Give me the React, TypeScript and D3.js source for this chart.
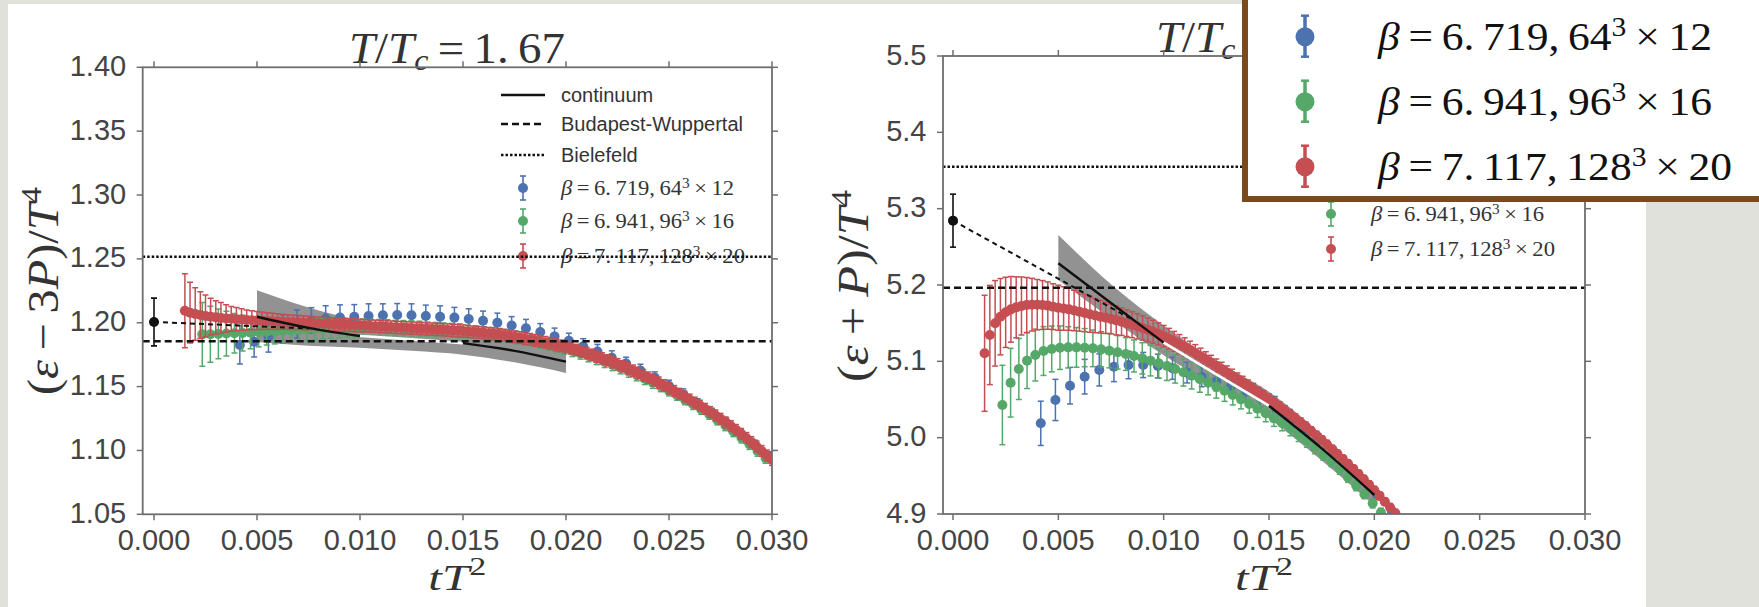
import React from 'react';
import * as d3 from 'd3';

const W = 1759;
const H = 607;

// ---------- axis ticks ----------
const xTicks = [0, 0.005, 0.01, 0.015, 0.02, 0.025, 0.03];
const xTickLabels = ['0.000', '0.005', '0.010', '0.015', '0.020', '0.025', '0.030'];
const leftYTicks = [1.05, 1.1, 1.15, 1.2, 1.25, 1.3, 1.35, 1.4];
const leftYTickLabels = ['1.05', '1.10', '1.15', '1.20', '1.25', '1.30', '1.35', '1.40'];
const rightYTicks = [4.9, 5.0, 5.1, 5.2, 5.3, 5.4, 5.5];
const rightYTickLabels = ['4.9', '5.0', '5.1', '5.2', '5.3', '5.4', '5.5'];

// ---------- ensembles ----------
const betaLabels = ['6.719', '6.941', '7.117'];
const spatialLabels = ['64', '96', '128'];
const temporalLabels = ['12', '16', '20'];
const latticeNt = [12, 16, 20];
const flowTimeStart = 0.6; // t/a^2 of first point
const flowTimeStep = 0.1; // t/a^2 step
const seriesColors = ['#4c72b0', '#55a868', '#c44e52'];

// ---------- left panel: (e-3P)/T^4 ----------
const leftBlueValues = [1.1826, 1.1852, 1.1890, 1.1950, 1.1990, 1.2018, 1.2033, 1.2040, 1.2047, 1.2053,
  1.2058, 1.2060, 1.2058, 1.2053, 1.2047, 1.2040, 1.2029, 1.2016, 1.2000, 1.1978,
  1.1956, 1.1928, 1.1893, 1.1858, 1.1815, 1.1775, 1.1725, 1.1680, 1.1625, 1.1570,
  1.1505, 1.1437, 1.1365, 1.1290, 1.1213, 1.1130, 1.1045, 1.0955];
const leftBlueErr = [0.015, 0.012, 0.012, 0.011, 0.011, 0.010, 0.010, 0.010, 0.0095, 0.0095,
  0.009, 0.009, 0.009, 0.0085, 0.0085, 0.008, 0.008, 0.0075, 0.0075, 0.007,
  0.007, 0.0065, 0.0065, 0.006, 0.006, 0.0055, 0.0055, 0.005, 0.005, 0.0045,
  0.0045, 0.0045, 0.004, 0.004, 0.004, 0.0035, 0.0035, 0.0035];

const leftGreenValues = [1.1909, 1.1910, 1.1912, 1.1915, 1.1917, 1.1919, 1.1922, 1.1926, 1.1930, 1.1934,
  1.1938, 1.1941, 1.1944, 1.1947, 1.1950, 1.1952, 1.1954, 1.1956, 1.1958, 1.1959,
  1.1960, 1.1960, 1.1960, 1.1959, 1.1958, 1.1957, 1.1955, 1.1952, 1.1950, 1.1947,
  1.1943, 1.1940, 1.1936, 1.1931, 1.1925, 1.1919, 1.1912, 1.1904, 1.1895, 1.1885,
  1.1873, 1.1860, 1.1846, 1.1831, 1.1815, 1.1798, 1.1780, 1.1760, 1.1739, 1.1717,
  1.1694, 1.1670, 1.1645, 1.1618, 1.1590, 1.1561, 1.1531, 1.1500, 1.1467, 1.1433,
  1.1398, 1.1361, 1.1323, 1.1284, 1.1240, 1.1195, 1.1148, 1.1099, 1.1048, 1.0995,
  1.0940];
const leftGreenErr = [0.025, 0.022, 0.0195, 0.0175, 0.0155, 0.014, 0.0125, 0.0115, 0.0105, 0.010,
  0.0095, 0.009, 0.0085, 0.0085, 0.008, 0.008, 0.0075, 0.0075, 0.007, 0.007,
  0.007, 0.0065, 0.0065, 0.0065, 0.006, 0.006, 0.006, 0.006, 0.0055, 0.0055,
  0.0055, 0.0055, 0.0055, 0.005, 0.005, 0.005, 0.005, 0.005, 0.005, 0.005,
  0.005, 0.0045, 0.0045, 0.0045, 0.0045, 0.0045, 0.0045, 0.0045, 0.0045, 0.0045,
  0.0045, 0.0045, 0.0045, 0.0045, 0.0045, 0.0045, 0.0045, 0.004, 0.004, 0.004,
  0.004, 0.004, 0.004, 0.004, 0.004, 0.004, 0.004, 0.004, 0.004, 0.004,
  0.004];

const leftRedValues = [1.2094, 1.2079, 1.2068, 1.2060, 1.2053, 1.2047, 1.2042, 1.2038, 1.2034, 1.2031,
  1.2028, 1.2025, 1.2022, 1.2019, 1.2017, 1.2015, 1.2013, 1.2011, 1.2009, 1.2007,
  1.2005, 1.2003, 1.2002, 1.2000, 1.1998, 1.1996, 1.1994, 1.1992, 1.1990, 1.1988,
  1.1986, 1.1984, 1.1982, 1.1980, 1.1978, 1.1976, 1.1974, 1.1972, 1.1970, 1.1968,
  1.1966, 1.1964, 1.1962, 1.1960, 1.1958, 1.1956, 1.1954, 1.1952, 1.1950, 1.1948,
  1.1946, 1.1943, 1.1940, 1.1938, 1.1935, 1.1932, 1.1928, 1.1925, 1.1921, 1.1917,
  1.1913, 1.1908, 1.1903, 1.1897, 1.1890, 1.1884, 1.1877, 1.1870, 1.1862, 1.1854,
  1.1846, 1.1837, 1.1828, 1.1819, 1.1810, 1.1799, 1.1787, 1.1775, 1.1762, 1.1749,
  1.1735, 1.1721, 1.1706, 1.1691, 1.1675, 1.1659, 1.1642, 1.1625, 1.1607, 1.1589,
  1.1570, 1.1551, 1.1531, 1.1510, 1.1487, 1.1466, 1.1444, 1.1422, 1.1399, 1.1375,
  1.1351, 1.1326, 1.1301, 1.1275, 1.1248, 1.1220, 1.1191, 1.1161, 1.1130, 1.1098,
  1.1065, 1.1031, 1.0996, 1.0961, 1.0925];
const leftRedErr = [0.029, 0.0237, 0.0206, 0.0183, 0.0164, 0.0144, 0.013, 0.012, 0.0107, 0.0097,
  0.0091, 0.0084, 0.0078, 0.0074, 0.0071, 0.0068, 0.0065, 0.0063, 0.0061, 0.0059,
  0.0057, 0.0056, 0.0055, 0.0054, 0.0053, 0.005, 0.005, 0.005, 0.005, 0.005,
  0.005, 0.005, 0.005, 0.005, 0.005, 0.0048, 0.0048, 0.0048, 0.0048, 0.0048,
  0.0048, 0.0048, 0.0048, 0.0048, 0.0048, 0.0048, 0.0048, 0.0048, 0.0048, 0.0048,
  0.0048, 0.0048, 0.0048, 0.0048, 0.0048, 0.0046, 0.0046, 0.0046, 0.0046, 0.0046,
  0.0046, 0.0046, 0.0046, 0.0046, 0.0046, 0.0046, 0.0046, 0.0046, 0.0046, 0.0046,
  0.0046, 0.0046, 0.0046, 0.0046, 0.0046, 0.0044, 0.0044, 0.0044, 0.0044, 0.0044,
  0.0044, 0.0044, 0.0044, 0.0044, 0.0044, 0.0044, 0.0044, 0.0044, 0.0044, 0.0044,
  0.0044, 0.0044, 0.0044, 0.0044, 0.0044, 0.0042, 0.0042, 0.0042, 0.0042, 0.0042,
  0.0042, 0.0042, 0.0042, 0.0042, 0.0042, 0.0042, 0.0042, 0.0042, 0.0042, 0.0042,
  0.0042, 0.0042, 0.0042, 0.0042, 0.0042];

// continuum extrapolation
const contT = [0.005, 0.0075, 0.01, 0.0125, 0.015, 0.0175, 0.02];
const leftCont = [1.2047, 1.1960, 1.1896, 1.1870, 1.1840, 1.1780, 1.1695];
const leftBandHi = [1.2255, 1.2120, 1.2020, 1.1970, 1.1930, 1.1880, 1.1780];
const leftBandLo = [1.1850, 1.1820, 1.1805, 1.1780, 1.1750, 1.1690, 1.1607];
const leftExtrapT = [0, 0.0075];
const leftExtrapV = [1.2006, 1.1955];
const leftZeroFlow = { value: 1.2006, err: 0.0187 };
const leftBudapest = 1.1855;
const leftBielefeld = 1.2517;

// ---------- right panel: (e+P)/T^4 ----------
const rightBlueValues = [5.0188, 5.0494, 5.0681, 5.0799, 5.0887, 5.0930, 5.0952, 5.0952, 5.0939, 5.0909,
  5.0852, 5.0797, 5.0738, 5.0672, 5.0598, 5.0516, 5.0440, 5.0290, 5.0140, 4.9990,
  4.9820, 4.9640, 4.9450, 4.9250, 4.9040, 4.8830];
const rightBlueErr = [0.029, 0.027, 0.024, 0.0227, 0.021, 0.0196, 0.018, 0.0165, 0.0155, 0.0145,
  0.0135, 0.013, 0.0125, 0.012, 0.012, 0.0115, 0.010, 0.008, 0.007, 0.006,
  0.006, 0.0055, 0.0055, 0.005, 0.005, 0.005];

const rightGreenValues = [5.0428, 5.0720, 5.0900, 5.1009, 5.1083, 5.1135, 5.1162, 5.1179, 5.1183, 5.1183,
  5.1179, 5.1170, 5.1157, 5.1140, 5.1118, 5.1096, 5.1070, 5.1039, 5.1009, 5.0974,
  5.0939, 5.0900, 5.0856, 5.0813, 5.0765, 5.0721, 5.0668, 5.0616, 5.0559, 5.0502,
  5.0441, 5.0380, 5.0319, 5.0253, 5.0190, 5.0120, 5.0040, 4.9960, 4.9870, 4.9780,
  4.9690, 4.9590, 4.9480, 4.9370, 4.9260, 4.9140, 4.9020, 4.8900];
const rightGreenErr = [0.052, 0.045, 0.040, 0.0365, 0.034, 0.032, 0.030, 0.0285, 0.027, 0.026,
  0.025, 0.024, 0.023, 0.0225, 0.022, 0.0215, 0.021, 0.0205, 0.020, 0.0195,
  0.019, 0.0185, 0.018, 0.0175, 0.017, 0.016, 0.015, 0.014, 0.013, 0.0125,
  0.012, 0.0115, 0.011, 0.0105, 0.010, 0.0095, 0.009, 0.0085, 0.008, 0.0075,
  0.007, 0.007, 0.0065, 0.0065, 0.006, 0.006, 0.0055, 0.0055];

const rightRedValues = [5.1105, 5.1345, 5.1498, 5.1585, 5.1642, 5.1681, 5.1707, 5.1725, 5.1738, 5.1742,
  5.1742, 5.1738, 5.1730, 5.1716, 5.1703, 5.1692, 5.1681, 5.1666, 5.1650, 5.1633,
  5.1616, 5.1600, 5.1585, 5.1570, 5.1555, 5.1537, 5.1519, 5.1500, 5.1480, 5.1459,
  5.1437, 5.1413, 5.1388, 5.1360, 5.1330, 5.1297, 5.1262, 5.1226, 5.1188, 5.1149,
  5.1109, 5.1068, 5.1026, 5.0984, 5.0941, 5.0898, 5.0855, 5.0812, 5.0768, 5.0724,
  5.0680, 5.0636, 5.0591, 5.0546, 5.0501, 5.0454, 5.0405, 5.0355, 5.0304, 5.0252,
  5.0199, 5.0144, 5.0088, 5.0030, 4.9971, 4.9911, 4.9849, 4.9786, 4.9722, 4.9657,
  4.9591, 4.9524, 4.9455, 4.9384, 4.9311, 4.9237, 4.9162, 4.9086, 4.9009, 4.8931];
const rightRedErr = [0.076, 0.065, 0.056, 0.050, 0.046, 0.043, 0.040, 0.038, 0.036, 0.0345,
  0.033, 0.032, 0.031, 0.030, 0.0295, 0.0285, 0.0275, 0.0265, 0.0255, 0.0245,
  0.0235, 0.0225, 0.0215, 0.0205, 0.0195, 0.019, 0.018, 0.0175, 0.017, 0.0165,
  0.016, 0.0155, 0.015, 0.0145, 0.014, 0.0135, 0.013, 0.0125, 0.012, 0.0115,
  0.011, 0.0105, 0.010, 0.0095, 0.009, 0.009, 0.0085, 0.0085, 0.008, 0.008,
  0.0075, 0.0075, 0.007, 0.007, 0.007, 0.0065, 0.0065, 0.0065, 0.006, 0.006,
  0.006, 0.006, 0.0055, 0.0055, 0.0055, 0.0055, 0.005, 0.005, 0.005, 0.005,
  0.005, 0.005, 0.005, 0.005, 0.005, 0.005, 0.005, 0.005, 0.005, 0.005];

const rightCont = [5.2284, 5.1765, 5.1245, 5.0830, 5.0417, 4.9860, 4.9249];
const rightBandHi = [5.2655, 5.2010, 5.1470, 5.1000, 5.0600, 5.0040, 4.9370];
const rightBandLo = [5.2066, 5.1560, 5.1080, 5.0670, 5.0250, 4.9700, 4.9110];
const rightExtrapT = [0, 0.0085];
const rightExtrapV = [5.2843, 5.155];
const rightZeroFlow = { value: 5.2843, err: 0.0347 };
const rightBudapest = 5.1965;
const rightBielefeld = 5.355;

const legendTexts = ['continuum', 'Budapest-Wuppertal', 'Bielefeld'];

// ---------- layout ----------
const SANS = "'Liberation Sans', Arial, Helvetica, sans-serif";
const SERIF = "'Liberation Serif', 'Times New Roman', serif";
const FRAME = '#6e6e6e';
const TICKTXT = '#444';

type Cfg = any;

const leftCfg: Cfg = {
  id: 'L', left: 142.7, right: 772, top: 67.3, bottom: 514.3, xZero: 154,
  yDomain: [1.05, 1.4], yTicks: leftYTicks, yTickLabels: leftYTickLabels,
  series: [[leftBlueValues, leftBlueErr], [leftGreenValues, leftGreenErr], [leftRedValues, leftRedErr]],
  cont: leftCont, bandHi: leftBandHi, bandLo: leftBandLo,
  extrapT: leftExtrapT, extrapV: leftExtrapV, zero: leftZeroFlow,
  budapest: leftBudapest, bielefeld: leftBielefeld,
  titleX: 457, titleY: 63, ylabel: 'minus', ylabelX: 58, ylabelY: 291, ylabelLen: 208,
  legend: { l0: 501, l1: 545, mx: 523, tx: 561, rows: [95, 124, 155, 188, 221, 256], show: [0, 1, 2, 3, 4, 5] },
};
// rows 0-3 of the right-hand legend lie under the large legend box, as in the reference
const rightCfg: Cfg = {
  id: 'R', left: 943, right: 1585, top: 56, bottom: 514, xZero: 953,
  yDomain: [4.9, 5.5], yTicks: rightYTicks, yTickLabels: rightYTickLabels,
  series: [[rightBlueValues, rightBlueErr], [rightGreenValues, rightGreenErr], [rightRedValues, rightRedErr]],
  cont: rightCont, bandHi: rightBandHi, bandLo: rightBandLo,
  extrapT: rightExtrapT, extrapV: rightExtrapV, zero: rightZeroFlow,
  budapest: rightBudapest, bielefeld: rightBielefeld,
  titleX: 1264, titleY: 52, ylabel: 'plus', ylabelX: 868, ylabelY: 286, ylabelLen: 192,
  legend: { l0: 1309, l1: 1353, mx: 1331, tx: 1371, rows: [87, 116, 147, 180, 214, 249], show: [4, 5] },
};

function BetaLabel({ x, y, i, size, width, fill }: any) {
  const sup = size * 0.36;
  return (
    <text x={x} y={y} fontFamily={SERIF} fontSize={size} fill={fill}
      textLength={width} lengthAdjust="spacingAndGlyphs">
      <tspan fontStyle="italic">β</tspan>
      <tspan>{`\u2009=\u2009${betaLabels[i].replace('.', '.\u2009')},\u2009${spatialLabels[i]}`}</tspan>
      <tspan dy={-sup} fontSize={size * 0.68}>3</tspan>
      <tspan dy={sup}>{`\u2009×\u2009${temporalLabels[i]}`}</tspan>
    </text>
  );
}

function Title({ x, y }: any) {
  return (
    <text x={x} y={y} textAnchor="middle" fontFamily={SERIF} fontSize={44} fill="#333"
      textLength={216} lengthAdjust="spacingAndGlyphs">
      <tspan fontStyle="italic">T</tspan>
      <tspan>/</tspan>
      <tspan fontStyle="italic">T</tspan>
      <tspan fontStyle="italic" fontSize={30} dy={7}>c</tspan>
      <tspan dy={-7}>{'\u2009=\u20091.\u200967'}</tspan>
    </text>
  );
}

function Panel({ cfg }: { cfg: Cfg }) {
  const x = d3.scaleLinear().domain([0, 0.03]).range([cfg.xZero, cfg.right]);
  const y = d3.scaleLinear().domain(cfg.yDomain).range([cfg.bottom, cfg.top]);
  const clipId = `clip${cfg.id}`;

  const band = d3.area<number>()
    .x((_, i) => x(contT[i]))
    .y0((_, i) => y(cfg.bandLo[i]))
    .y1((_, i) => y(cfg.bandHi[i]))
    .curve(d3.curveMonotoneX)(cfg.cont);

  const segLine = (from: number, to: number) =>
    d3.line<number>()
      .x((i) => x(contT[i]))
      .y((i) => y(cfg.cont[i]))
      .curve(d3.curveMonotoneX)(d3.range(from, to + 1));

  const extrap = d3.line<number>()
    .x((_, i) => x(cfg.extrapT[i]))
    .y((v) => y(v))(cfg.extrapV);

  const cap = 3;
  const r = 5;

  const seriesEls = cfg.series.map(([vals, errs]: any, s: number) => {
    const nt2 = latticeNt[s] * latticeNt[s];
    const col = seriesColors[s];
    return (
      <g key={s}>
        {vals.map((v: number, i: number) => {
          const t = (flowTimeStart + i * flowTimeStep) / nt2;
          const cx = x(t);
          const yt = y(v + errs[i]);
          const yb = y(v - errs[i]);
          return (
            <g key={i} stroke={col} strokeWidth={1.5}>
              <line x1={cx} x2={cx} y1={yt} y2={yb} />
              <line x1={cx - cap} x2={cx + cap} y1={yt} y2={yt} />
              <line x1={cx - cap} x2={cx + cap} y1={yb} y2={yb} />
            </g>
          );
        })}
        {vals.map((v: number, i: number) => {
          const t = (flowTimeStart + i * flowTimeStep) / nt2;
          return <circle key={'m' + i} cx={x(t)} cy={y(v)} r={r} fill={col} />;
        })}
      </g>
    );
  });

  const z = cfg.zero;
  const zx = x(0);
  const lg = cfg.legend;
  const shown = (i: number) => lg.show.includes(i);

  const ylab = cfg.ylabel === 'minus' ? (
    <>
      <tspan>(</tspan>
      <tspan fontStyle="italic">ε</tspan>
      <tspan>{'\u2009−\u20093'}</tspan>
      <tspan fontStyle="italic">P</tspan>
      <tspan>)/</tspan>
      <tspan fontStyle="italic">T</tspan>
      <tspan dy={-17} fontSize={30}>4</tspan>
    </>
  ) : (
    <>
      <tspan>(</tspan>
      <tspan fontStyle="italic">ε</tspan>
      <tspan>{'\u2009+\u2009'}</tspan>
      <tspan fontStyle="italic">P</tspan>
      <tspan>)/</tspan>
      <tspan fontStyle="italic">T</tspan>
      <tspan dy={-17} fontSize={30}>4</tspan>
    </>
  );

  const dashes = ['', '7,4', '2.5,2'];

  return (
    <g>
      <defs>
        <clipPath id={clipId}>
          <rect x={cfg.left} y={cfg.top} width={cfg.right - cfg.left} height={cfg.bottom - cfg.top} />
        </clipPath>
      </defs>

      <Title x={cfg.titleX} y={cfg.titleY} />

      <g clipPath={`url(#${clipId})`}>
        <path d={band || ''} fill="#929292" />
        {seriesEls}
        <g stroke="#111" strokeWidth={1.6}>
          <line x1={zx} x2={zx} y1={y(z.value + z.err)} y2={y(z.value - z.err)} />
          <line x1={zx - cap} x2={zx + cap} y1={y(z.value + z.err)} y2={y(z.value + z.err)} />
          <line x1={zx - cap} x2={zx + cap} y1={y(z.value - z.err)} y2={y(z.value - z.err)} />
        </g>
        <circle cx={zx} cy={y(z.value)} r={r} fill="#111" />
        <path d={extrap || ''} fill="none" stroke="#111" strokeWidth={2} strokeDasharray="5,4" />
        <path d={segLine(0, 2) || ''} fill="none" stroke="#111" strokeWidth={2.4} />
        <path d={segLine(2, 4) || ''} fill="none" stroke="#fff" strokeWidth={2.6} />
        <path d={segLine(4, 6) || ''} fill="none" stroke="#111" strokeWidth={2.4} />
      </g>

      {/* legend */}
      <g>
        {legendTexts.map((t, i) => shown(i) ? (
          <g key={t}>
            <line x1={lg.l0} x2={lg.l1} y1={lg.rows[i]} y2={lg.rows[i]} stroke="#111" strokeWidth={2.5}
              strokeDasharray={dashes[i] || undefined} />
            <text x={lg.tx} y={lg.rows[i] + 7} fontFamily={SANS} fontSize={20} fill="#333">{t}</text>
          </g>
        ) : null)}
        {[0, 1, 2].map((s) => {
          if (!shown(3 + s)) return null;
          const cy = lg.rows[3 + s];
          return (
            <g key={s}>
              <g stroke={seriesColors[s]} strokeWidth={1.6}>
                <line x1={lg.mx} x2={lg.mx} y1={cy - 12} y2={cy + 12} />
                <line x1={lg.mx - 3} x2={lg.mx + 3} y1={cy - 12} y2={cy - 12} />
                <line x1={lg.mx - 3} x2={lg.mx + 3} y1={cy + 12} y2={cy + 12} />
              </g>
              <circle cx={lg.mx} cy={cy} r={5} fill={seriesColors[s]} />
              <BetaLabel x={lg.tx} y={cy + 7} i={s} size={20} width={s === 2 ? 184 : 173} fill="#333" />
            </g>
          );
        })}
      </g>

      {/* reference lines */}
      <g clipPath={`url(#${clipId})`}>
        <line x1={cfg.left} x2={cfg.right} y1={y(cfg.budapest)} y2={y(cfg.budapest)} stroke="#111" strokeWidth={2.5} strokeDasharray="7,4" />
        <line x1={cfg.left} x2={cfg.right} y1={y(cfg.bielefeld)} y2={y(cfg.bielefeld)} stroke="#111" strokeWidth={2.5} strokeDasharray="2.5,2" />
      </g>

      {/* frame */}
      <rect x={cfg.left} y={cfg.top} width={cfg.right - cfg.left} height={cfg.bottom - cfg.top}
        fill="none" stroke={FRAME} strokeWidth={1.8} />
      <g stroke={FRAME} strokeWidth={1.5}>
        {xTicks.map((t) => (
          <g key={t}>
            <line x1={x(t)} x2={x(t)} y1={cfg.bottom} y2={cfg.bottom + 6} />
            <line x1={x(t)} x2={x(t)} y1={cfg.top} y2={cfg.top - 6} />
          </g>
        ))}
        {cfg.yTicks.map((v: number) => (
          <g key={v}>
            <line x1={cfg.left - 6} x2={cfg.left} y1={y(v)} y2={y(v)} />
            <line x1={cfg.right} x2={cfg.right + 6} y1={y(v)} y2={y(v)} />
          </g>
        ))}
      </g>
      {xTicks.map((t, i) => (
        <text key={t} x={x(t)} y={cfg.bottom + 36} textAnchor="middle" fontFamily={SANS} fontSize={29} fill={TICKTXT}>
          {xTickLabels[i]}
        </text>
      ))}
      {cfg.yTicks.map((v: number, i: number) => (
        <text key={v} x={cfg.left - 16.5} y={y(v) + 8.5} textAnchor="end" fontFamily={SANS} fontSize={29} fill={TICKTXT}>
          {cfg.yTickLabels[i]}
        </text>
      ))}

      {/* axis labels */}
      <text x={(cfg.left + cfg.right) / 2} y={590} textAnchor="middle" fontFamily={SERIF} fontSize={36} fill="#333"
        textLength={58} lengthAdjust="spacingAndGlyphs">
        <tspan fontStyle="italic">tT</tspan>
        <tspan dy={-15} fontSize={25}>2</tspan>
      </text>
      <text transform={`translate(${cfg.ylabelX},${cfg.ylabelY}) rotate(-90)`} textAnchor="middle"
        fontFamily={SERIF} fontSize={44} fill="#333" textLength={cfg.ylabelLen} lengthAdjust="spacingAndGlyphs">
        {ylab}
      </text>
    </g>
  );
}

const bigLegendRows = [36.7, 101.7, 166.7];
const bigLegendWidths = [334, 334, 354];

function BigLegend() {
  const mx = 1305;
  return (
    <g>
      <rect x={1245} y={-10} width={600} height={209} fill="#fff" stroke="#7a4a1c" strokeWidth={6} />
      {bigLegendRows.map((cy, s) => (
        <g key={s}>
          <g stroke={seriesColors[s]} strokeWidth={3.5}>
            <line x1={mx} x2={mx} y1={cy - 21} y2={cy + 20} />
            <line x1={mx - 4} x2={mx + 4} y1={cy - 21} y2={cy - 21} strokeWidth={2.5} />
            <line x1={mx - 4} x2={mx + 4} y1={cy + 20} y2={cy + 20} strokeWidth={2.5} />
          </g>
          <circle cx={mx} cy={cy} r={9.5} fill={seriesColors[s]} />
          <BetaLabel x={1378} y={cy + 13.3} i={s} size={40} width={bigLegendWidths[s]} fill="#111" />
        </g>
      ))}
    </g>
  );
}

export default function App() {
  return (
    <svg width={W} height={H} viewBox={`0 0 ${W} ${H}`}
      style={{ position: 'absolute', left: 0, top: 0, display: 'block' }}>
      <rect width={W} height={H} fill="#e1e1dc" />
      <rect x={8} y={4} width={1638} height={603} fill="#ffffff" />
      <Panel cfg={leftCfg} />
      <Panel cfg={rightCfg} />
      <BigLegend />
    </svg>
  );
}
